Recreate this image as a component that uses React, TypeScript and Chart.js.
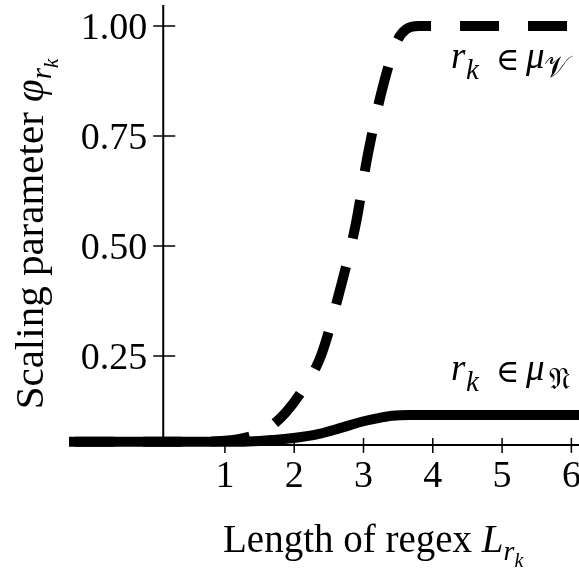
import { useEffect, useRef } from "react";
import { Chart, registerables } from "chart.js";

Chart.register(...registerables);

// ---- data ----
const X_MIN = -1.25;
const X_MAX = 6.11;
const Y_MIN = 0;
const Y_MAX = 1.05;
const Y_AXIS_AT_X = 0.11;
const X_AXIS_AT_Y = 0.048;

const xTicks = [1, 2, 3, 4, 5, 6];
const xTickLabels = ["1", "2", "3", "4", "5", "6"];
const yTicks = [0.25, 0.5, 0.75, 1.0];
const yTickLabels = ["0.25", "0.50", "0.75", "1.00"];

// r_k in mu_N (solid)
const solidX = [-1.25, 1.0, 1.5, 1.96, 2.36, 2.66, 2.96, 3.16, 3.41, 3.66, 6.11];
const solidY = [0.055, 0.055, 0.057, 0.063, 0.073, 0.086, 0.1, 0.107, 0.114, 0.116, 0.116];

// r_k in mu_V (dashed)
const dashedX = [-1.25, 0.5, 0.95, 1.25, 1.55, 1.88, 2.15, 2.39, 2.66, 2.89, 3.06, 3.27, 3.48, 3.62, 3.8, 6.11];
const dashedY = [0.055, 0.055, 0.057, 0.063, 0.078, 0.122, 0.18, 0.252, 0.4, 0.551, 0.706, 0.856, 0.964, 0.993, 1.0, 1.0];

const xTitle = "Length of regex ";
const yTitle = "Scaling parameter ";

const SERIF = "'Liberation Serif', 'DejaVu Serif', serif";

type Seg = { t: string; size: number; italic?: boolean; dy?: number };

function segWidth(ctx: CanvasRenderingContext2D, segs: Seg[]) {
  let w = 0;
  for (const s of segs) {
    ctx.font = `${s.italic ? "italic " : ""}${s.size}px ${SERIF}`;
    w += ctx.measureText(s.t).width;
  }
  return w;
}

function drawSegs(ctx: CanvasRenderingContext2D, segs: Seg[], x: number, y: number) {
  let cx = x;
  ctx.textAlign = "left";
  ctx.textBaseline = "alphabetic";
  for (const s of segs) {
    ctx.font = `${s.italic ? "italic " : ""}${s.size}px ${SERIF}`;
    ctx.fillText(s.t, cx, y + (s.dy || 0));
    cx += ctx.measureText(s.t).width;
  }
}

const axesPlugin = {
  id: "customAxes",
  beforeDatasetsDraw(chart: any) {
    const ctx: CanvasRenderingContext2D = chart.ctx;
    const xs = chart.scales.x;
    const ys = chart.scales.y;
    const ca = chart.chartArea;
    const ax = xs.getPixelForValue(Y_AXIS_AT_X);
    const ay = ys.getPixelForValue(X_AXIS_AT_Y);
    ctx.save();
    ctx.strokeStyle = "#000";
    ctx.lineWidth = 2;
    ctx.beginPath();
    ctx.moveTo(ax, ca.top + 1);
    ctx.lineTo(ax, ay);
    ctx.stroke();
    ctx.beginPath();
    ctx.moveTo(ca.left, ay);
    ctx.lineTo(ca.right, ay);
    ctx.stroke();
    ctx.lineWidth = 1.5;
    for (const v of yTicks) {
      const py = ys.getPixelForValue(v);
      ctx.beginPath();
      ctx.moveTo(ax - 10, py);
      ctx.lineTo(ax + 12, py);
      ctx.stroke();
    }
    for (const v of xTicks) {
      const px = xs.getPixelForValue(v);
      ctx.beginPath();
      ctx.moveTo(px, ay - 7);
      ctx.lineTo(px, ay + 8);
      ctx.stroke();
    }
    ctx.restore();
  },
  afterDraw(chart: any) {
    const ctx: CanvasRenderingContext2D = chart.ctx;
    const xs = chart.scales.x;
    const ys = chart.scales.y;
    const ax = xs.getPixelForValue(Y_AXIS_AT_X);
    const ay = ys.getPixelForValue(X_AXIS_AT_Y);
    ctx.save();
    ctx.fillStyle = "#000";
    ctx.font = `38px ${SERIF}`;
    ctx.textAlign = "right";
    ctx.textBaseline = "alphabetic";
    yTicks.forEach((v, i) => {
      ctx.fillText(yTickLabels[i], ax - 16, ys.getPixelForValue(v) + 13);
    });
    ctx.textAlign = "center";
    xTicks.forEach((v, i) => {
      ctx.fillText(xTickLabels[i], xs.getPixelForValue(v), ay + 42);
    });

    const xSegs: Seg[] = [
      { t: xTitle, size: 39 },
      { t: "L", size: 39, italic: true },
      { t: "r", size: 28, italic: true, dy: 8 },
      { t: "k", size: 20, italic: true, dy: 15 },
    ];
    drawSegs(ctx, xSegs, 223, 552);

    const ySegs: Seg[] = [
      { t: yTitle, size: 41 },
      { t: "\u03C6", size: 41, italic: true },
      { t: "r", size: 29, italic: true, dy: 8 },
      { t: "k", size: 21, italic: true, dy: 15 },
    ];
    const yw = segWidth(ctx, ySegs);
    ctx.save();
    ctx.translate(43, 234);
    ctx.rotate(-Math.PI / 2);
    drawSegs(ctx, ySegs, -yw / 2, 0);
    ctx.restore();

    const ann = (baseY: number, sub: string, subX: number) => {
      ctx.textAlign = "left";
      ctx.font = `italic 37px ${SERIF}`;
      ctx.fillText("r", 451, baseY);
      ctx.font = `italic 29px ${SERIF}`;
      ctx.fillText("k", 466, baseY + 11);
      ctx.font = `32px 'DejaVu Serif', serif`;
      ctx.fillText("\u2208", 496, baseY + 2);
      ctx.font = `italic 37px ${SERIF}`;
      ctx.fillText("\u03BC", 526, baseY);
      ctx.font = `30px 'DejaVu Serif', 'DejaVu Sans', serif`;
      ctx.fillText(sub, subX, baseY + 9);
    };
    ann(68, "\uD835\uDCB1", 544);
    ann(380, "\uD835\uDD11", 549);
    ctx.restore();
  },
};

export default function App() {
  const ref = useRef<HTMLCanvasElement | null>(null);
  useEffect(() => {
    if (!ref.current) return;
    const solid = solidX.map((x, i) => ({ x, y: solidY[i] }));
    const dashed = dashedX.map((x, i) => ({ x, y: dashedY[i] }));
    const chart = new Chart(ref.current, {
      type: "line",
      data: {
        datasets: [
          {
            label: "r_k ∈ μ_N",
            data: solid,
            borderColor: "#000",
            borderWidth: 10,
            pointRadius: 0,
            cubicInterpolationMode: "monotone",
            borderCapStyle: "butt",
            fill: false,
          },
          {
            label: "r_k ∈ μ_V",
            data: dashed,
            borderColor: "#000",
            borderWidth: 10,
            borderDash: [39, 29],
            borderDashOffset: 62,
            pointRadius: 0,
            cubicInterpolationMode: "monotone",
            borderCapStyle: "butt",
            fill: false,
          },
        ],
      },
      options: {
        animation: false,
        responsive: false,
        maintainAspectRatio: false,
        layout: { padding: { left: 69, right: 0, top: 4, bottom: 102 } },
        plugins: { legend: { display: false }, tooltip: { enabled: false } },
        scales: {
          x: { type: "linear", min: X_MIN, max: X_MAX, display: false },
          y: { type: "linear", min: Y_MIN, max: Y_MAX, display: false },
        },
      },
      plugins: [axesPlugin],
    });
    return () => chart.destroy();
  }, []);
  return (
    <div style={{ position: "fixed", left: 0, top: 0, width: 579, height: 568, background: "#fff" }}>
      <canvas ref={ref} width={579} height={568} style={{ width: 579, height: 568 }} />
    </div>
  );
}
